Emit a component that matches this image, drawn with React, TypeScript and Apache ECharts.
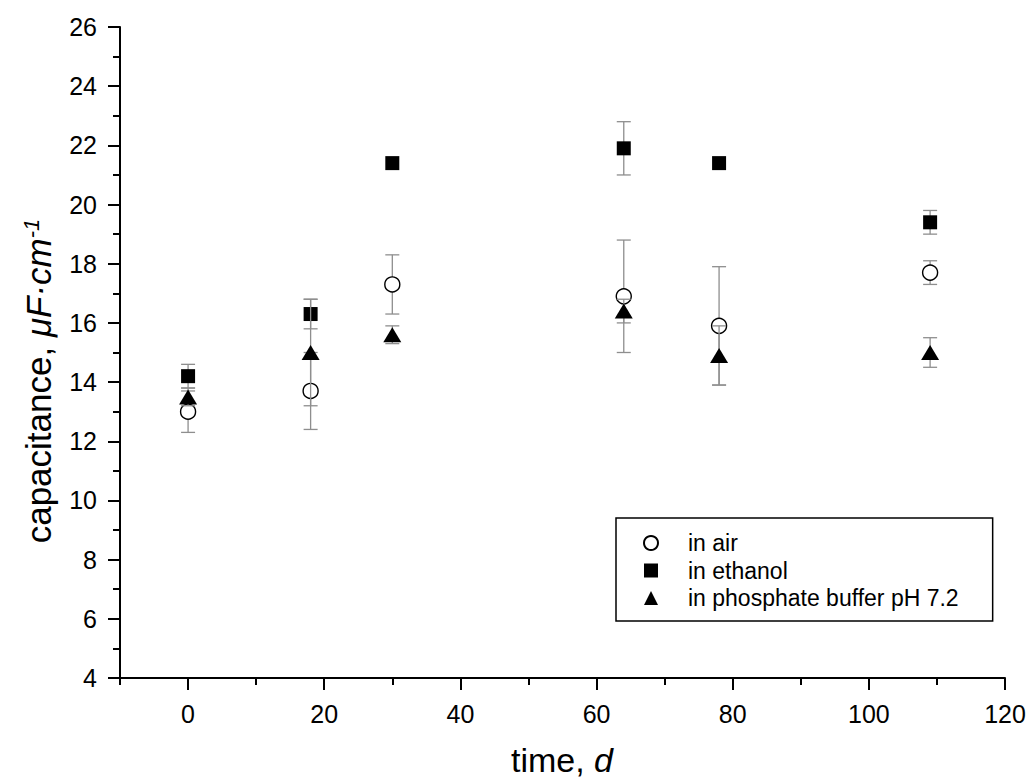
import React, { useEffect, useRef } from "react";
import * as echarts from "echarts";

// ---- data ----
const timeDays = [0, 18, 30, 64, 78, 109];
const airValues = [13.0, 13.7, 17.3, 16.9, 15.9, 17.7];
const airErrors = [0.7, 1.3, 1.0, 1.9, 2.0, 0.4];
const ethanolValues = [14.2, 16.3, 21.4, 21.9, 21.4, 19.4];
const ethanolErrors = [0.4, 0.5, 0, 0.9, 0, 0.4];
const bufferValues = [13.5, 15.0, 15.6, 16.4, 14.9, 15.0];
const bufferErrors = [0.3, 1.8, 0.3, 0.4, 1.0, 0.5];

const seriesNames = ["in air", "in ethanol", "in phosphate buffer pH 7.2"];
const xMajorTicks = [0, 20, 40, 60, 80, 100, 120];
const xMinorTicks = [-10, 10, 30, 50, 70, 90, 110];

const FONT = '"Liberation Sans", Arial, Helvetica, sans-serif';
const ERR_COLOR = "#8e8e8e";

function points(values: number[]) {
  return timeDays.map((t, i) => [t, values[i]]);
}
function errorData(values: number[], errors: number[]) {
  return timeDays
    .map((t, i) => [t, values[i] - errors[i], values[i] + errors[i]])
    .filter((_, i) => errors[i] > 0);
}

function renderErrorBar(params: any, api: any) {
  const x = api.value(0);
  const lo = api.coord([x, api.value(1)]);
  const hi = api.coord([x, api.value(2)]);
  const hw = 7;
  const style = { stroke: ERR_COLOR, lineWidth: 1.3 };
  return {
    type: "group",
    children: [
      { type: "line", shape: { x1: lo[0], y1: lo[1], x2: hi[0], y2: hi[1] }, style },
      { type: "line", shape: { x1: lo[0] - hw, y1: lo[1], x2: lo[0] + hw, y2: lo[1] }, style },
      { type: "line", shape: { x1: hi[0] - hw, y1: hi[1], x2: hi[0] + hw, y2: hi[1] }, style },
    ],
  };
}

function errSeries(name: string, values: number[], errors: number[], z: number) {
  return {
    type: "custom",
    name,
    xAxisIndex: 0,
    yAxisIndex: 0,
    z,
    encode: { x: 0, y: [1, 2] },
    data: errorData(values, errors),
    renderItem: renderErrorBar,
    silent: true,
  };
}

export default function App() {
  const ref = useRef<HTMLDivElement>(null);

  useEffect(() => {
    if (!ref.current) return;
    const chart = echarts.init(ref.current, undefined, { renderer: "svg" });
    const axisLine = { show: true, onZero: false, lineStyle: { color: "#000", width: 2 } };
    const option: any = {
      animation: false,
      backgroundColor: "#fff",
      textStyle: { fontFamily: FONT },
      grid: { left: 120, right: 24, top: 27, bottom: 102, containLabel: false, outerBoundsMode: "none" },
      xAxis: [
        {
          type: "value",
          min: -10,
          max: 120,
          axisLine,
          axisTick: { show: true, inside: false, length: 12, lineStyle: { color: "#000", width: 2 }, customValues: xMajorTicks },
          axisLabel: { show: true, customValues: xMajorTicks, fontSize: 25, color: "#000", fontFamily: FONT, margin: 23 },
          splitLine: { show: false },
        },
        {
          type: "value",
          min: -10,
          max: 120,
          position: "bottom",
          axisLine: { show: false, onZero: false },
          axisTick: { show: true, inside: false, length: 7, lineStyle: { color: "#000", width: 2 }, customValues: xMinorTicks },
          axisLabel: { show: false, customValues: xMinorTicks },
          splitLine: { show: false },
        },
      ],
      yAxis: {
        type: "value",
        min: 4,
        max: 26,
        interval: 2,
        axisLine,
        axisTick: { show: true, inside: false, length: 12, lineStyle: { color: "#000", width: 2 } },
        minorTick: { show: true, splitNumber: 2, length: 7, lineStyle: { color: "#000", width: 2 } },
        axisLabel: { fontSize: 25, color: "#000", fontFamily: FONT, margin: 23 },
        splitLine: { show: false },
        minorSplitLine: { show: false },
      },
      legend: {
        data: seriesNames,
        orient: "vertical",
        left: 616,
        top: 518,
        padding: [13, 34, 11, 27],
        borderColor: "#000",
        borderWidth: 1.5,
        itemWidth: 14,
        itemHeight: 14,
        itemGap: 3.5,
        textStyle: { fontSize: 23, color: "#000", fontFamily: FONT, lineHeight: 24, padding: [0, 0, 0, 25] },
        selectedMode: false,
      },
      graphic: [
        {
          type: "text",
          x: 38,
          y: 381,
          rotation: Math.PI / 2,
          style: {
            text: "{n|capacitance, }{i|μF·cm}{s|-1}",
            align: "center",
            verticalAlign: "middle",
            fill: "#000",
            rich: {
              n: { fontSize: 35, fontFamily: FONT, fill: "#000" },
              i: { fontSize: 35, fontFamily: FONT, fontStyle: "italic", fill: "#000" },
              s: { fontSize: 22, fontFamily: FONT, fontStyle: "italic", fill: "#000", verticalAlign: "top" },
            },
          },
        },
        {
          type: "text",
          x: 562,
          y: 760,
          style: {
            text: "{n|time, }{i|d}",
            align: "center",
            verticalAlign: "middle",
            fill: "#000",
            rich: {
              n: { fontSize: 34, fontFamily: FONT, fill: "#000" },
              i: { fontSize: 34, fontFamily: FONT, fontStyle: "italic", fill: "#000" },
            },
          },
        },
      ],
      series: [
        errSeries("air-error", airValues, airErrors, 2),
        {
          type: "scatter",
          name: seriesNames[0],
          z: 3,
          symbol: "circle",
          symbolSize: 15,
          itemStyle: { color: "#fff", borderColor: "#000", borderWidth: 1.4, opacity: 1 },
          data: points(airValues),
        },
        errSeries("ethanol-error", ethanolValues, ethanolErrors, 4),
        {
          type: "scatter",
          name: seriesNames[1],
          z: 5,
          symbol: "rect",
          symbolSize: 14,
          itemStyle: { color: "#000", opacity: 1 },
          data: points(ethanolValues),
        },
        errSeries("buffer-error", bufferValues, bufferErrors, 6),
        {
          type: "scatter",
          name: seriesNames[2],
          z: 7,
          symbol: "triangle",
          symbolSize: [18, 15],
          itemStyle: { color: "#000", opacity: 1 },
          data: points(bufferValues),
        },
      ],
    };
    chart.setOption(option);
    return () => chart.dispose();
  }, []);

  return (
    <div
      ref={ref}
      style={{ position: "absolute", left: 0, top: 0, width: 1029, height: 780, background: "#fff" }}
    />
  );
}
